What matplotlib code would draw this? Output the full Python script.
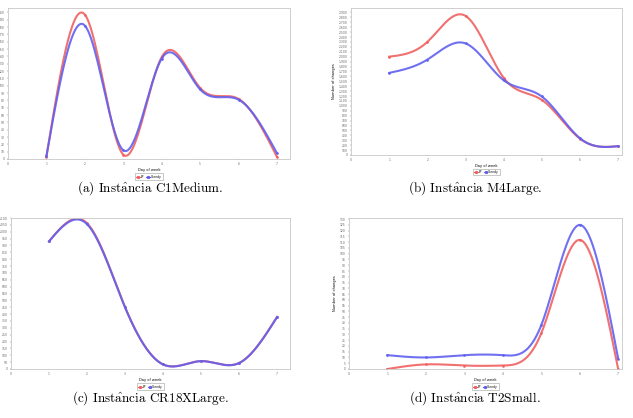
import matplotlib.pyplot as plt
import numpy as np

plt.rcParams['mathtext.fontset'] = 'cm'

# Day of week (x) for every series
days = [1, 2, 3, 4, 5, 6, 7]

# (a) C1Medium
c1_red = [3, 197, 6, 139, 97, 82, 3]
c1_blue = [4, 182, 12, 137, 95, 81, 8]
# (b) M4Large
m4_red = [2000, 2300, 2830, 1570, 1120, 330, 180]
m4_blue = [1670, 1940, 2270, 1520, 1190, 340, 180]
# (c) CR18XLarge
cr_red = [930, 1062, 452, 34, 58, 44, 380]
cr_blue = [930, 1055, 449, 33, 57, 43, 378]
# (d) T2Small
t2_red = [0, 4, 3, 3, 31, 112, 0]
t2_blue = [12, 10, 12, 12, 38, 125, 9]

legend_labels = ['LP', 'Greedy']
captions = ['(a) Inst$\\mathrm{\\hat{a}}$ncia C1Medium.', '(b) Inst$\\mathrm{\\hat{a}}$ncia M4Large.',
            '(c) Inst$\\mathrm{\\hat{a}}$ncia CR18XLarge.', '(d) Inst$\\mathrm{\\hat{a}}$ncia T2Small.']

W, H = 633, 418
RED = '#f06060'
BLUE = '#6060f0'


def spline(x, y, n=40):
    # natural cubic spline, like the chart tool's spline renderer
    x = np.asarray(x, float)
    y = np.asarray(y, float)
    k = len(x)
    h = np.diff(x)
    A = np.zeros((k, k))
    r = np.zeros(k)
    A[0, 0] = A[-1, -1] = 1
    for i in range(1, k - 1):
        A[i, i - 1] = h[i - 1]
        A[i, i] = 2 * (h[i - 1] + h[i])
        A[i, i + 1] = h[i]
        r[i] = 6 * ((y[i + 1] - y[i]) / h[i] - (y[i] - y[i - 1]) / h[i - 1])
    m = np.linalg.solve(A, r)
    xs, ys = [], []
    for i in range(k - 1):
        t = np.linspace(x[i], x[i + 1], n)
        a = (x[i + 1] - t) / h[i]
        b = (t - x[i]) / h[i]
        yy = a * y[i] + b * y[i + 1] + ((a ** 3 - a) * m[i] + (b ** 3 - b) * m[i + 1]) * h[i] ** 2 / 6
        xs.append(t)
        ys.append(yy)
    return np.concatenate(xs), np.concatenate(ys)


def add_chart(fig, box, xmax, ymax, ystep, red, blue, ylabel, comma):
    left, top, right, bottom = box
    ax = fig.add_axes([left / W, 1 - bottom / H, (right - left) / W, (bottom - top) / H])
    for vals, col in ((red, RED), (blue, BLUE)):
        sx, sy = spline(days, vals)
        ax.plot(sx, sy, color=col, lw=1.5, alpha=0.9)
        ax.plot(days, vals, 's', color=col, ms=0.8, lw=0)
    ax.set_xlim(0, xmax)
    ax.set_ylim(0, ymax)
    ax.set_xticks(range(0, 8))
    yt = np.arange(0, ymax + 1, ystep)
    ax.set_yticks(yt)
    if comma:
        ax.set_yticklabels([f'{int(v):,}' for v in yt])
    ax.tick_params(labelsize=2.2, colors='#666666', length=1, width=0.3, pad=1.5)
    for s in ax.spines.values():
        s.set_color('#c8c8c8')
        s.set_linewidth(0.6)
    ax.set_xlabel('Day of week', fontsize=2.6, labelpad=1.0)
    if ylabel:
        ax.set_ylabel('Number of changes', fontsize=2.6, labelpad=2)
    leg = ax.legend(handles=[plt.Line2D([], [], color=RED, marker='s', ms=1.2, lw=0.8),
                             plt.Line2D([], [], color=BLUE, marker='s', ms=1.2, lw=0.8)],
                    labels=legend_labels, loc='upper center', bbox_to_anchor=(0.5, -0.085),
                    ncol=2, fontsize=2.2, frameon=True, fancybox=False,
                    handlelength=1.2, columnspacing=0.6, handletextpad=0.3, borderpad=0.4)
    leg.get_frame().set_linewidth(0.4)
    leg.get_frame().set_edgecolor('#888888')
    return ax


def main():
    fig = plt.figure(figsize=(W / 100, H / 100), dpi=100)

    add_chart(fig, (8, 8, 290, 159), 7.34, 206, 10, c1_red, c1_blue, False, False)
    add_chart(fig, (351, 8, 622, 155), 7.1, 2990, 100, m4_red, m4_blue, True, True)
    add_chart(fig, (11, 218, 290, 369), 7.34, 1100, 50, cr_red, cr_blue, False, True)
    add_chart(fig, (349, 218, 622, 369), 7.1, 131, 5, t2_red, t2_blue, True, False)

    for (cx, cy), txt in zip([(150, 188), (475, 188), (150, 398), (475, 398)], captions):
        fig.text(cx / W, 1 - cy / H, txt, ha='center', va='center',
                 fontsize=9.5, family='cmr10')

    fig.savefig('out.png', dpi=100)


if __name__ == "__main__":
    main()
